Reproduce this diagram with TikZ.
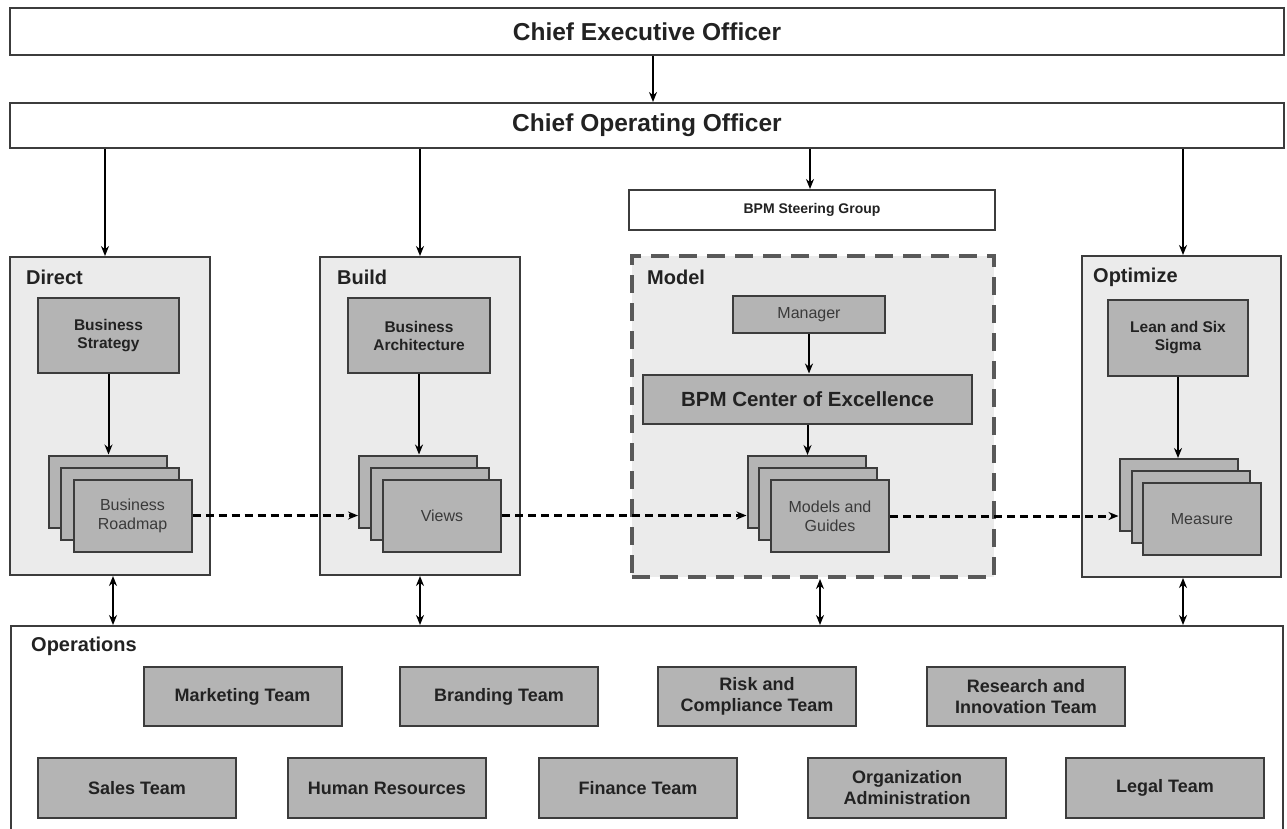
\documentclass[tikz,border=0pt]{standalone}
\usepackage{fontspec}
\setmainfont{Liberation Sans}
\usetikzlibrary{arrows.meta,calc}

\definecolor{edge}{HTML}{3C3C3C}
\definecolor{panelfill}{HTML}{EBEBEB}
\definecolor{boxfill}{HTML}{B4B4B4}
\definecolor{ink}{HTML}{222222}
\definecolor{softink}{HTML}{3A3A3A}

\begin{document}
\begin{tikzpicture}[x=1pt, y=-1pt,
  >={Stealth[length=10pt,width=8pt]},
  chief/.style={draw=edge, line width=2pt, fill=white, inner sep=0pt,
    font=\bfseries\fontsize{24.5}{27}\selectfont, text=ink},
  panel/.style={draw=edge, line width=2pt, fill=panelfill, inner sep=0pt},
  tag/.style={anchor=west, inner sep=0pt, text=ink,
    font=\bfseries\fontsize{20}{23}\selectfont},
  unit/.style={draw=edge, line width=2pt, fill=boxfill, align=center,
    text=ink, inner sep=2pt, font=\bfseries\fontsize{15.5}{18}\selectfont},
  sheet/.style={draw=edge, line width=2pt, fill=boxfill, inner sep=0pt,
    minimum width=118pt, minimum height=72pt, align=center, text=softink,
    font=\fontsize{16}{19}\selectfont},
  team/.style={unit, minimum width=198pt, font=\bfseries\fontsize{18}{21}\selectfont},
  link/.style={->, line width=2pt},
  flow/.style={->, line width=3pt, dash pattern=on 8pt off 5pt},
  twoway/.style={<->, line width=2pt}]

\useasboundingbox (0,0) rectangle (1287,828);
\clip (0,0) rectangle (1287,828);

% executive levels
\node[chief, minimum width=1274pt, minimum height=47pt] (ceo) at (647,31.5) {Chief Executive Officer};
\node[chief, minimum width=1274pt, minimum height=45pt] (coo) at (647,125.5) {Chief Operating Officer};
\node[unit, fill=white, minimum width=366pt, minimum height=40pt,
  font=\bfseries\fontsize{14}{16}\selectfont] (steer) at (812,210) {BPM Steering Group};

% operations area (runs past the lower edge)
\node[draw=edge, line width=2pt, fill=white, inner sep=0pt, anchor=north west,
  minimum width=1272pt, minimum height=240pt] (ops) at (10,625) {};
\node[tag] (opstag) at (31,646) {Operations};

% four pillars
\node[panel, minimum width=200pt, minimum height=318pt] (direct) at (110,416) {};
\node[tag] (directtag) at (26,277) {Direct};
\node[panel, minimum width=200pt, minimum height=318pt] (build) at (420,416) {};
\node[tag] (buildtag) at (337,277) {Build};
\node[panel, draw=edge!85, line width=4pt, dash pattern=on 18pt off 10pt,
  minimum width=362pt, minimum height=321pt] (model) at (812.5,416.5) {};
\node[tag] (modeltag) at (647,277) {Model};
\node[panel, minimum width=199pt, minimum height=321pt] (optimize) at (1181.5,416.5) {};
\node[tag] (optimizetag) at (1093,277) {Optimize};

% pillar contents
\node[unit, minimum width=141pt, minimum height=75pt] (strategy) at (108.5,335.5) {Business\\Strategy};
\node[unit, minimum width=142pt, minimum height=75pt] (architecture) at (419,335.5) {Business\\Architecture};
\node[unit, minimum width=152pt, minimum height=37pt, text=softink,
  font=\fontsize{16}{19}\selectfont] (manager) at (809,314.5) {Manager};
\node[unit, minimum width=329pt, minimum height=49pt,
  font=\bfseries\fontsize{20.5}{24}\selectfont] (coe) at (807.5,399) {BPM Center of Excellence};
\node[unit, minimum width=140pt, minimum height=76pt] (lean) at (1178,338) {Lean and Six\\Sigma};

% stacked documents
\node[sheet] (rmA) at (108,491.5) {};
\node[sheet] (rmB) at (120,503.5) {};
\node[sheet] (rmC) at (132.5,515.5) {Business\\Roadmap};

\node[sheet] (vwA) at (418,491.5) {};
\node[sheet] (vwB) at (430,503.5) {};
\node[sheet] (vwC) at (442,515.5) {Views};

\node[sheet] (mgA) at (806.5,492) {};
\node[sheet] (mgB) at (818,504) {};
\node[sheet] (mgC) at (830,516) {Models and\\Guides};

\node[sheet] (msA) at (1178.5,495) {};
\node[sheet] (msB) at (1191,506.5) {};
\node[sheet] (msC) at (1202,519) {Measure};

% operations teams
\node[team, minimum height=59pt] (marketing) at (242.5,696.5) {Marketing Team};
\node[team, minimum height=59pt] (branding) at (499,696.5) {Branding Team};
\node[team, minimum height=59pt] (risk) at (757,696.5) {Risk and\\Compliance Team};
\node[team, minimum height=59pt] (research) at (1026,696.5) {Research and\\Innovation Team};

\node[team, minimum height=60pt] (sales) at (137,788) {Sales Team};
\node[team, minimum height=60pt] (hr) at (387,788) {Human Resources};
\node[team, minimum height=60pt] (finance) at (638,788) {Finance Team};
\node[team, minimum height=60pt] (orgadmin) at (907,788) {Organization\\Administration};
\node[team, minimum height=60pt] (legal) at (1165,788) {Legal Team};

% reporting lines
\draw[link] ([xshift=6pt]ceo.south) -- ([xshift=6pt]coo.north);
\draw[link] ($(direct.north |- coo.south)+(-5,0)$) -- ($(direct.north)+(-5,0)$);
\draw[link] (build.north |- coo.south) -- (build.north);
\draw[link] ($(steer.north |- coo.south)+(-2,0)$) -- ($(steer.north)+(-2,0)$);
\draw[link] ($(optimize.north |- coo.south)+(1.5,0)$) -- ($(optimize.north)+(1.5,0)$);

% inside the pillars
\draw[link] (strategy.south) -- (strategy.south |- rmA.north);
\draw[link] (architecture.south) -- (architecture.south |- vwA.north);
\draw[link] (manager.south) -- (manager.south |- coe.north);
\draw[link] (coe.south) -- (coe.south |- mgA.north);
\draw[link] (lean.south) -- (lean.south |- msA.north);

% hand-offs between pillars
\draw[flow] (rmC.east) -- (rmC.east -| vwA.west);
\draw[flow] (vwC.east) -- (vwC.east -| mgA.west);
\draw[flow] (mgC.east) -- (mgC.east -| msA.west);

% pillars and operations
\draw[twoway] ($(direct.south)+(3,0)$) -- ($(direct.south |- ops.north)+(3,0)$);
\draw[twoway] (build.south) -- (build.south |- ops.north);
\draw[twoway] ($(model.south)+(7.5,0)$) -- ($(model.south |- ops.north)+(7.5,0)$);
\draw[twoway] ($(optimize.south)+(1.5,0)$) -- ($(optimize.south |- ops.north)+(1.5,0)$);
\end{tikzpicture}
\end{document}
